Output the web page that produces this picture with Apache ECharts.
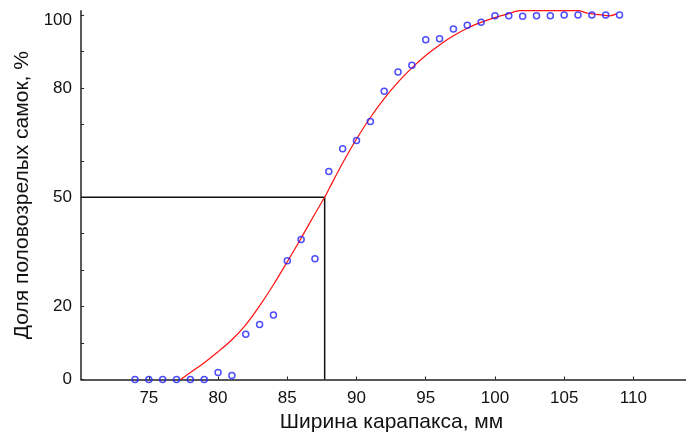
<!DOCTYPE html>
<html>
<head>
<meta charset="utf-8">
<script src="https://cdn.jsdelivr.net/npm/echarts@6/dist/echarts.min.js"></script>
<style>html,body{margin:0;padding:0;background:#fff}#c{width:686px;height:432px}</style>
</head>
<body>
<div id="c"></div>
<script>
// Observed data: carapace width (mm) vs share of mature females (%)
var sizes = [74,75,76,77,78,79,80,81,82,83,84,85,86,87,88,89,90,91,92,93,94,95,96,97,98,99,100,101,102,103,104,105,106,107,108,109];
var matured = [0,0,0,0,0,0,1.9,1.1,12.4,15.1,17.7,32.6,38.4,33.1,57.1,63.3,65.6,70.8,79.1,84.4,86.2,93.2,93.5,96.2,97.2,98.0,99.8,99.8,99.7,99.8,99.8,100,100,100,100,100];
// Fitted curve
var fitX = [77.3,78,79,80,81,82,83,84,85,86,87,87.7,88,89,90,91,92,93,94,95,96,97,98,99,100,101,101.8,106,106.7,107.8,108.3,108.8];
var fitY = [0,1.9,4.6,7.6,10.9,15.0,20.2,26.0,32.3,38.8,45.5,50,52.2,59.4,66.0,71.9,77.1,81.6,85.5,88.9,91.8,94.3,96.4,98.0,99.3,100.4,101.2,101.2,100.5,100.0,99.8,100.4];
// Reference lines (50% maturity)
var refX = [70.1, 87.7, 87.7];
var refY = [50, 50, 0];
// Axis ticks and labels
var xTicks = [75,80,85,90,95,100,105,110];
var yTicks = [0,10,20,30,40,50,60,70,80,90,100];
var yLabels = [0,20,50,80,100];

function zip(a,b){var r=[];for(var i=0;i<a.length;i++)r.push([a[i],b[i]]);return r;}

var chart = echarts.init(document.getElementById('c'), null, {renderer:'canvas'});
chart.setOption({
  animation:false,
  backgroundColor:'#fff',
  grid:{left:81,right:0,top:10.7,bottom:52.5,containLabel:false,outerBoundsMode:'none'},
  xAxis:{
    type:'value', min:70.1, max:113.8,
    name:'Ширина карапакса, мм', nameLocation:'middle', nameGap:30,
    nameTextStyle:{fontFamily:'Liberation Sans',fontSize:21,color:'#111',padding:[0,0,0,16]},
    axisLine:{show:true,onZero:false,lineStyle:{color:'#222',width:1.5}},
    axisTick:{show:true,inside:true,length:3,customValues:xTicks,lineStyle:{color:'#222'}},
    axisLabel:{customValues:xTicks,margin:10,fontFamily:'Liberation Sans',fontSize:17,color:'#111'},
    splitLine:{show:false}
  },
  yAxis:{
    type:'value', min:0, max:101.2,
    name:'Доля половозрелых самок, %', nameLocation:'middle', nameGap:48,
    nameTextStyle:{fontFamily:'Liberation Sans',fontSize:21,color:'#111'},
    axisLine:{show:true,onZero:false,lineStyle:{color:'#222',width:1.5}},
    axisTick:{show:true,inside:true,length:3,customValues:yTicks,lineStyle:{color:'#222'}},
    axisLabel:{customValues:yLabels,margin:9,fontFamily:'Liberation Sans',fontSize:17,color:'#111',
      formatter:function(v){return v===100?'{top|100}':String(v);},
      rich:{top:{fontFamily:'Liberation Sans',fontSize:17,color:'#111',padding:[10,0,0,0]}}},
    splitLine:{show:false}
  },
  series:[
    {type:'line',data:zip(refX,refY),symbol:'none',lineStyle:{color:'#111',width:1.5},z:1,silent:true},
    {type:'line',data:zip(fitX,fitY),symbol:'none',smooth:0.3,clip:true,lineStyle:{color:'#ff1010',width:1.2},z:2},
    {type:'scatter',data:zip(sizes,matured),symbol:'circle',symbolSize:6,clip:false,
     itemStyle:{color:'rgba(255,255,255,0)',borderColor:'#2020ff',borderWidth:1.5},z:3}
  ]
});
</script>
</body>
</html>
